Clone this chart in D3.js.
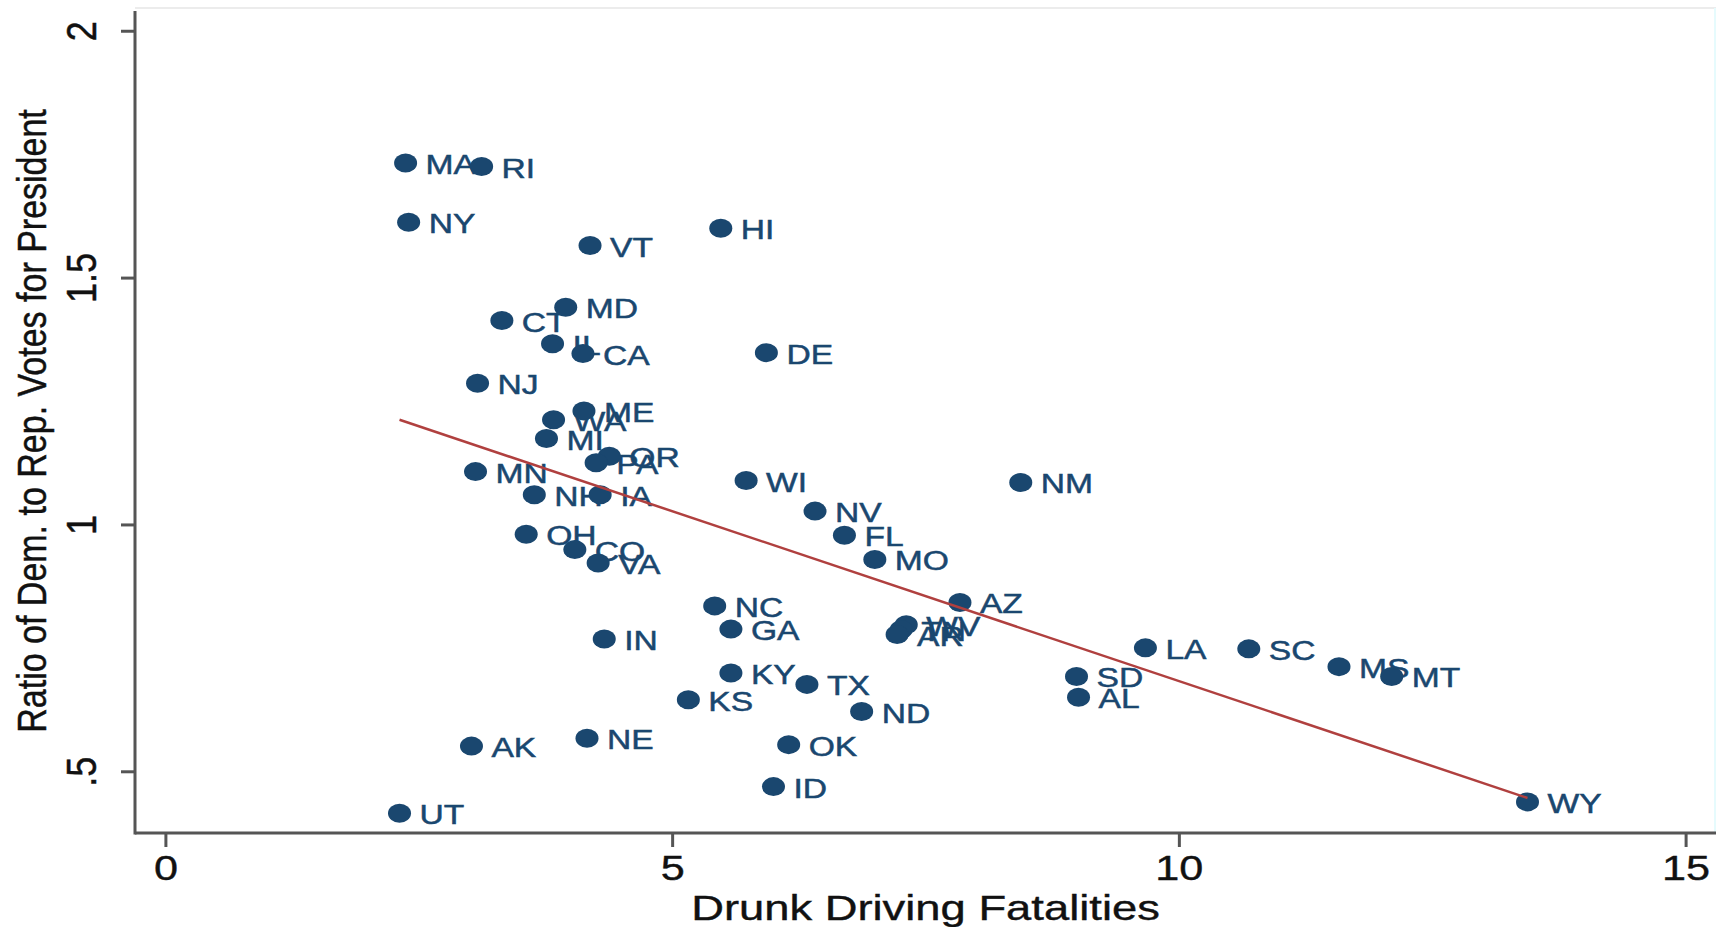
<!DOCTYPE html>
<html>
<head>
<meta charset="utf-8">
<script src="https://cdn.jsdelivr.net/npm/d3@7"></script>
<style>
  body { margin: 0; background: #fff; }
  svg { display: block; }
  text { font-family: "Liberation Sans", Arial, sans-serif; }
</style>
</head>
<body>
<svg></svg>
<script>
var WIDTH = 1725;
var HEIGHT = 927;

// state labels, drunk driving fatalities (x), ratio of dem. to rep. votes (y)
var states = ["MA", "RI", "NY", "VT", "HI", "MD", "CT", "IL", "CA", "DE",
              "NJ", "ME", "WA", "MI", "OR", "PA", "MN", "NH", "IA", "WI",
              "NM", "NV", "FL", "MO", "OH", "CO", "VA", "NC", "GA", "IN",
              "AZ", "WV", "TN", "AR", "KY", "TX", "KS", "ND", "OK", "ID",
              "NE", "AK", "UT", "LA", "SC", "MS", "MT", "SD", "AL", "WY"];
var fatalities = [2.37, 3.12, 2.40, 4.19, 5.48, 3.95, 3.32, 3.82, 4.12, 5.93,
                  3.08, 4.13, 3.83, 3.76, 4.38, 4.25, 3.06, 3.64, 4.29, 5.73,
                  8.44, 6.41, 6.70, 7.00, 3.56, 4.04, 4.27, 5.42, 5.58, 4.33,
                  7.84, 7.31, 7.26, 7.22, 5.58, 6.33, 5.16, 6.87, 6.15, 6.00,
                  4.16, 3.02, 2.31, 9.67, 10.69, 11.58, 12.10, 8.99, 9.01, 13.44];
var voteRatio = [1.732, 1.725, 1.612, 1.565, 1.600, 1.440, 1.413, 1.366, 1.346, 1.348,
                 1.286, 1.230, 1.212, 1.174, 1.138, 1.125, 1.107, 1.060, 1.060, 1.089,
                 1.085, 1.027, 0.978, 0.929, 0.980, 0.949, 0.922, 0.835, 0.788, 0.768,
                 0.842, 0.797, 0.787, 0.777, 0.699, 0.676, 0.645, 0.621, 0.554, 0.469,
                 0.567, 0.551, 0.415, 0.750, 0.748, 0.712, 0.692, 0.692, 0.650, 0.438];

// fitted line end points
var fitX = [2.31, 13.44];
var fitY = [1.212, 0.446];

var xTicks = [0, 5, 10, 15];
var yTicks = [0.5, 1, 1.5, 2];
var yTickLabels = [".5", "1", "1.5", "2"];

var NAVY = "#1a476f";
var RED = "#b0403f";
var AXIS = "#555";
var STRETCH = 1.2;

var svg = d3.select("svg")
    .attr("width", WIDTH)
    .attr("height", HEIGHT);

var x = d3.scaleLinear().domain([-0.3, 15.3]).range([135, 1716]);
var y = d3.scaleLinear().domain([0.375, 2.04]).range([833, 11]);

// faint plot frame (top and right)
svg.append("line")
    .attr("x1", x(-0.3)).attr("x2", x(15.3))
    .attr("y1", 8).attr("y2", 8)
    .attr("stroke", "#ececec").attr("stroke-width", 2);
svg.append("line")
    .attr("x1", x(15.3) - 1).attr("x2", x(15.3) - 1)
    .attr("y1", 8).attr("y2", y(0.375))
    .attr("stroke", "#e6fbfd").attr("stroke-width", 2);

// axes
var xAxis = d3.axisBottom(x).tickValues(xTicks).tickSize(14).tickFormat(d3.format("d"));
var gx = svg.append("g")
    .attr("transform", "translate(0," + y(0.375) + ")")
    .call(xAxis);
gx.select(".domain").remove();
gx.selectAll(".tick line").attr("stroke", AXIS).attr("stroke-width", 3);
gx.selectAll(".tick text")
    .attr("fill", "#111")
    .attr("stroke", "#111").attr("stroke-width", 0.4)
    .attr("font-size", 36)
    .attr("dy", null)
    .attr("y", 0)
    .attr("transform", "translate(0,47) scale(" + STRETCH + ",1)");

var yAxis = d3.axisLeft(y).tickValues(yTicks).tickSize(14)
    .tickFormat(function(d, i) { return yTickLabels[i]; });
var gy = svg.append("g")
    .attr("transform", "translate(" + x(-0.3) + ",0)")
    .call(yAxis);
gy.select(".domain").remove();
gy.selectAll(".tick line").attr("stroke", AXIS).attr("stroke-width", 3);
gy.selectAll(".tick text")
    .attr("fill", "#111")
    .attr("stroke", "#111").attr("stroke-width", 0.4)
    .attr("font-size", 36)
    .attr("x", 0).attr("dy", null)
    .attr("text-anchor", "middle")
    .attr("transform", "translate(-39,0) scale(" + STRETCH + ",1) rotate(-90)");

// axis lines
svg.append("line")
    .attr("x1", x(-0.3)).attr("x2", x(15.3))
    .attr("y1", y(0.375)).attr("y2", y(0.375))
    .attr("stroke", AXIS).attr("stroke-width", 3);
svg.append("line")
    .attr("x1", x(-0.3)).attr("x2", x(-0.3))
    .attr("y1", y(2.04)).attr("y2", y(0.375) + 1.5)
    .attr("stroke", AXIS).attr("stroke-width", 3);

// axis titles
svg.append("text")
    .attr("transform", "translate(" + x(7.5) + ",920) scale(1.26,1)")
    .attr("text-anchor", "middle")
    .attr("font-size", 36)
    .attr("fill", "#111")
    .attr("stroke", "#111").attr("stroke-width", 0.4)
    .text("Drunk Driving Fatalities");

svg.append("text")
    .attr("transform", "translate(46," + 421 + ") scale(" + STRETCH + ",1) rotate(-90)")
    .attr("text-anchor", "middle")
    .attr("font-size", 34)
    .attr("fill", "#111")
    .attr("stroke", "#111").attr("stroke-width", 0.4)
    .text("Ratio of Dem. to Rep. Votes for President");

// points
var data = states.map(function(s, i) {
    return {name: s, x: fatalities[i], y: voteRatio[i]};
});

svg.append("g")
    .selectAll("ellipse")
    .data(data)
    .enter()
    .append("ellipse")
    .attr("cx", function(d) { return x(d.x); })
    .attr("cy", function(d) { return y(d.y); })
    .attr("rx", 11.5)
    .attr("ry", 9.5)
    .attr("fill", NAVY);

svg.append("g")
    .selectAll("text")
    .data(data)
    .enter()
    .append("text")
    .attr("transform", function(d) {
        return "translate(" + (x(d.x) + 20) + "," + (y(d.y) + 11) + ") scale(" + STRETCH + ",1)";
    })
    .attr("font-size", 28)
    .attr("fill", NAVY)
    .attr("stroke", NAVY).attr("stroke-width", 0.5)
    .text(function(d) { return d.name; });

// fitted line
var line = d3.line()
    .x(function(d) { return x(d[0]); })
    .y(function(d) { return y(d[1]); });
svg.append("path")
    .datum(fitX.map(function(v, i) { return [v, fitY[i]]; }))
    .attr("d", line)
    .attr("fill", "none")
    .attr("stroke", RED)
    .attr("stroke-width", 2.5);
</script>
</body>
</html>
